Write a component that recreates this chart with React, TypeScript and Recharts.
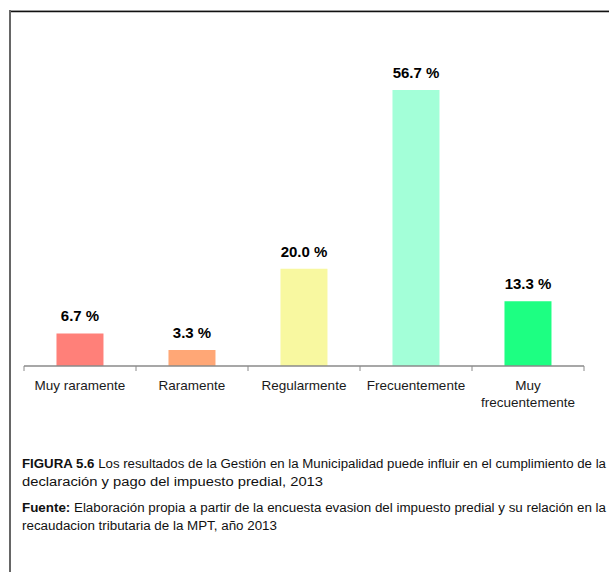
import React from "react";
import { BarChart, Bar, XAxis, YAxis, Cell, LabelList } from "recharts";

const categories = ["Muy raramente", "Raramente", "Regularmente", "Frecuentemente", "Muy frecuentemente"];
const values = [6.7, 3.3, 20.0, 56.7, 13.3];
const colors = ["#FF8079", "#FFA776", "#F8F8A0", "#A3FFD8", "#1DFF82"];

const data = categories.map((name, i) => ({ name, value: values[i] }));

const W = 609;
const H = 572;
const CH = 430;
const MARGIN = { top: 74, right: 25, bottom: 14, left: 24 };
const AXIS_H = 50;
const AXIS_Y = CH - MARGIN.bottom - AXIS_H;
const PLOT_W = W - MARGIN.left - MARGIN.right;
const FONT = "'Liberation Sans', Arial, sans-serif";
const AXIS_COLOR = "#8a8a8a";

const wrap = (s: string): string[] => {
  if (s.length > 15) {
    const k = s.indexOf(" ");
    return [s.slice(0, k), s.slice(k + 1)];
  }
  return [s];
};

const Tick = (props: any) => {
  const { x, payload, index } = props;
  const bw = PLOT_W / categories.length;
  const lines = wrap(String(payload.value));
  return (
    <g>
      <line x1={x - bw / 2} x2={x - bw / 2} y1={AXIS_Y} y2={AXIS_Y + 5} stroke={AXIS_COLOR} strokeWidth={1} />
      {index === categories.length - 1 && (
        <line x1={x + bw / 2} x2={x + bw / 2} y1={AXIS_Y} y2={AXIS_Y + 5} stroke={AXIS_COLOR} strokeWidth={1} />
      )}
      <text x={x} y={AXIS_Y + 24} textAnchor="middle" fill="#1a1a1a" fontSize={13.5} fontFamily={FONT}>
        {lines.map((l, i) => (
          <tspan key={i} x={x} dy={i === 0 ? 0 : 17}>
            {l}
          </tspan>
        ))}
      </text>
    </g>
  );
};

const ValueLabel = (props: any) => {
  const { x, y, width, value } = props;
  return (
    <text
      x={Number(x) + Number(width) / 2}
      y={Number(y) - 12}
      textAnchor="middle"
      fill="#000"
      fontWeight="bold"
      fontSize={15}
      fontFamily={FONT}
    >
      {`${Number(value).toFixed(1)} %`}
    </text>
  );
};

export default function App() {
  return (
    <div style={{ position: "absolute", left: 0, top: 0, width: W, height: H, background: "#fff", overflow: "hidden" }}>
      <div style={{ position: "absolute", left: 0, top: 0 }}>
        <BarChart width={W} height={CH} data={data} margin={MARGIN} barCategoryGap="29%">
          <XAxis
            dataKey="name"
            height={AXIS_H}
            axisLine={{ stroke: AXIS_COLOR, strokeWidth: 1.5 }}
            tickLine={false}
            tick={<Tick />}
            interval={0}
          />
          <YAxis hide domain={[0, 60]} />
          <Bar dataKey="value" isAnimationActive={false}>
            {data.map((d, i) => (
              <Cell key={d.name} fill={colors[i]} />
            ))}
            <LabelList dataKey="value" content={<ValueLabel />} />
          </Bar>
        </BarChart>
      </div>
      <svg width={W} height={H} style={{ position: "absolute", left: 0, top: 0, pointerEvents: "none" }}>
        <line x1={9} y1={10.5} x2={W} y2={10.5} stroke="#c8c8c8" strokeWidth={1} />
        <line x1={9} y1={11.5} x2={W} y2={11.5} stroke="#111" strokeWidth={1.5} />
        <line x1={10} y1={10} x2={10} y2={H} stroke="#666" strokeWidth={2} />
        <g fontFamily={FONT} fontSize={12.5} fill="#111" style={{ whiteSpace: "pre" }}>
          <text x={22} y={468} textLength={584} lengthAdjust="spacingAndGlyphs">
            <tspan fontWeight="bold">FIGURA 5.6</tspan>
            <tspan>{"  Los resultados de la Gestión en la Municipalidad  puede influir en el cumplimiento de la"}</tspan>
          </text>
          <text x={22} y={486} textLength={301} lengthAdjust="spacingAndGlyphs">
            {"declaración y pago del  impuesto predial, 2013"}
          </text>
          <text x={22} y={512} textLength={584} lengthAdjust="spacingAndGlyphs">
            <tspan fontWeight="bold">Fuente:</tspan>
            <tspan>{" Elaboración propia a partir de la encuesta  evasion del impuesto predial  y su relación en  la"}</tspan>
          </text>
          <text x={22} y={530} textLength={255} lengthAdjust="spacingAndGlyphs">
            {"recaudacion  tributaria de la MPT, año 2013"}
          </text>
        </g>
      </svg>
    </div>
  );
}
